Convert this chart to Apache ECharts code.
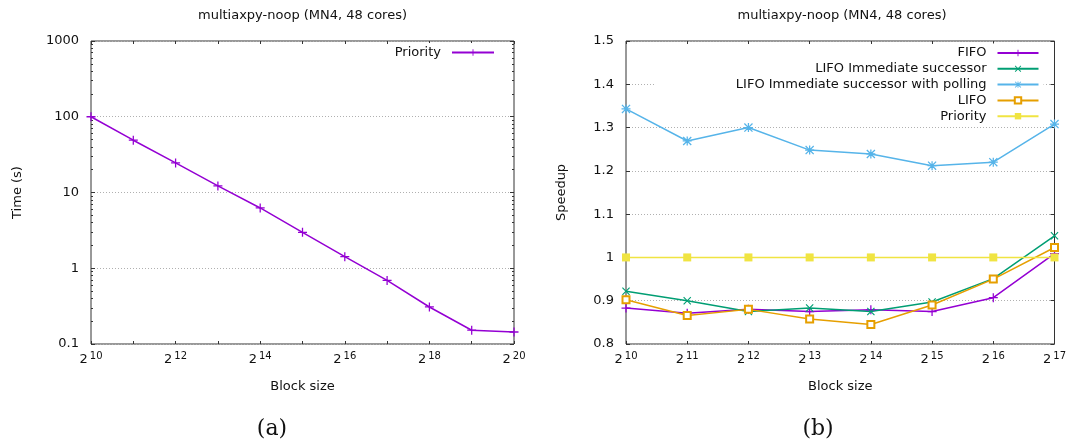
<!DOCTYPE html>
<html>
<head>
<meta charset="utf-8">
<script src="https://cdn.jsdelivr.net/npm/echarts@6/dist/echarts.min.js"></script>
<style>
  html, body { margin: 0; padding: 0; background: #fff; }
  #chart { width: 1069px; height: 444px; }
</style>
</head>
<body>
<div id="chart"></div>
<script>
// ---- data ----
// Block sizes are stored as powers of two (exponent n means 2^n elements).
const timeExponents = [10, 11, 12, 13, 14, 15, 16, 17, 18, 19, 20];
const timePriority = [100, 49, 24.6, 12.2, 6.25, 2.98, 1.42, 0.69, 0.308, 0.152, 0.144];

const speedupExponents = [10, 11, 12, 13, 14, 15, 16, 17];
const speedupFIFO = [0.883, 0.871, 0.880, 0.875, 0.879, 0.875, 0.907, 1.009];
const speedupLIFOImm = [0.922, 0.900, 0.875, 0.883, 0.875, 0.897, 0.951, 1.050];
const speedupLIFOImmPoll = [1.343, 1.269, 1.300, 1.248, 1.239, 1.212, 1.220, 1.308];
const speedupLIFO = [0.902, 0.866, 0.880, 0.858, 0.845, 0.890, 0.950, 1.023];
const speedupPriority = [1, 1, 1, 1, 1, 1, 1, 1];

const timeTickValues = [0.1, 1, 10, 100, 1000];
const speedupLegend = ['FIFO', 'LIFO Immediate successor', 'LIFO Immediate successor with polling', 'LIFO', 'Priority'];
const titleText = 'multiaxpy-noop (MN4, 48 cores)';

// ---- styling ----
const FONT = 'DejaVu Sans';
const TEXT = '#111';
const COLORS = {
  purple: '#9400d3',
  green: '#009e73',
  blue: '#56b4e9',
  orange: '#e69f00',
  yellow: '#f0e442'
};
const SYM_PLUS = 'path://M4.3,0H5.7V4.3H10V5.7H5.7V10H4.3V5.7H0V4.3H4.3Z';
const SYM_CROSS = 'path://M0,1L1,0L5,4L9,0L10,1L6,5L10,9L9,10L5,6L1,10L0,9L4,5Z';
const SYM_STAR = 'path://M4.3,0H5.7V4.3H10V5.7H5.7V10H4.3V5.7H0V4.3H4.3ZM0,1L1,0L5,4L9,0L10,1L6,5L10,9L9,10L5,6L1,10L0,9L4,5Z';

// minor ticks of the log axis (2..9 within every decade)
const logMinor = [];
for (let d = 0.1; d < 1000; d *= 10) {
  for (let k = 2; k <= 9; k++) logMinor.push(+(k * d).toPrecision(3));
}

const pairs = (xs, ys) => xs.map((x, i) => [x, ys[i]]);
const powLabel = v => '{b|2}{e|' + v + '}';
const powRich = {
  b: { fontFamily: FONT, fontSize: 13, color: TEXT, verticalAlign: 'bottom', lineHeight: 16 },
  e: { fontFamily: FONT, fontSize: 10, color: TEXT, verticalAlign: 'top', lineHeight: 16, padding: [1, 0, 0, 2] }
};
const dotted = { show: true, lineStyle: { color: '#b0b0b0', width: 1, type: [1, 2] } };
const tickColor = '#333';

function xAxes(gridIndex, max, labelFilter) {
  return [
    {
      type: 'value', gridIndex, position: 'bottom', min: 10, max, interval: 1,
      axisLine: { show: false },
      axisTick: { show: true, inside: true, length: 3, lineStyle: { color: tickColor } },
      axisLabel: {
        margin: 6, formatter: v => labelFilter(v) ? powLabel(v) : '', rich: powRich
      },
      splitLine: { show: false },
      name: 'Block size', nameLocation: 'middle', nameGap: 36,
      nameTextStyle: { fontFamily: FONT, fontSize: 13, color: TEXT }
    },
    {
      type: 'value', gridIndex, position: 'top', min: 10, max, interval: 1,
      axisLine: { show: false },
      axisTick: { show: true, inside: true, length: 3, lineStyle: { color: tickColor } },
      axisLabel: { show: false }, splitLine: { show: false }
    }
  ];
}

function logAxis(position, extra) {
  return Object.assign({
    type: 'log', logBase: 10, gridIndex: 0, position, min: 0.1, max: 1000,
    axisLine: { show: false },
    axisLabel: { show: false }, splitLine: { show: false }
  }, extra);
}

const yAxis = [
  logAxis('left', {
    axisTick: { show: true, inside: true, length: 4, customValues: timeTickValues, lineStyle: { color: tickColor } },
    axisLabel: {
      show: true, margin: 12, customValues: timeTickValues, formatter: v => String(v),
      fontFamily: FONT, fontSize: 13, color: TEXT
    },
    splitLine: dotted,
    name: 'Time (s)', nameLocation: 'middle', nameGap: 67,
    nameTextStyle: { fontFamily: FONT, fontSize: 13, color: TEXT }
  }),
  logAxis('left', { axisTick: { show: true, inside: true, length: 2, customValues: logMinor, lineStyle: { color: tickColor } } }),
  logAxis('right', { axisTick: { show: true, inside: true, length: 4, customValues: timeTickValues, lineStyle: { color: tickColor } } }),
  logAxis('right', { axisTick: { show: true, inside: true, length: 2, customValues: logMinor, lineStyle: { color: tickColor } } }),
  {
    type: 'value', gridIndex: 1, position: 'left', min: 0.8, max: 1.5, interval: 0.1,
    axisLine: { show: false },
    axisTick: { show: true, inside: true, length: 4, lineStyle: { color: tickColor } },
    axisLabel: { margin: 12, fontFamily: FONT, fontSize: 13, color: TEXT },
    splitLine: dotted,
    name: 'Speedup', nameLocation: 'middle', nameGap: 58,
    nameTextStyle: { fontFamily: FONT, fontSize: 13, color: TEXT }
  },
  {
    type: 'value', gridIndex: 1, position: 'right', min: 0.8, max: 1.5, interval: 0.1,
    axisLine: { show: false },
    axisTick: { show: true, inside: true, length: 4, lineStyle: { color: tickColor } },
    axisLabel: { show: false }, splitLine: { show: false }
  }
];

function lineSeries(key, xIdx, yIdx, data, color, symbol, size, extraItem) {
  return {
    name: key, type: 'line', xAxisIndex: xIdx, yAxisIndex: yIdx, data,
    color, symbol, symbolSize: size, showSymbol: true,
    lineStyle: { color, width: 1.5 },
    itemStyle: Object.assign({ color }, extraItem || {}),
    emphasis: { disabled: true }, animation: false
  };
}

const series = [
  lineSeries('a|Priority', 0, 0, pairs(timeExponents, timePriority), COLORS.purple, SYM_PLUS, 9),
  lineSeries('b|FIFO', 2, 4, pairs(speedupExponents, speedupFIFO), COLORS.purple, SYM_PLUS, 9),
  lineSeries('b|LIFO Immediate successor', 2, 4, pairs(speedupExponents, speedupLIFOImm), COLORS.green, SYM_CROSS, 8),
  lineSeries('b|LIFO Immediate successor with polling', 2, 4, pairs(speedupExponents, speedupLIFOImmPoll), COLORS.blue, SYM_STAR, 9),
  lineSeries('b|LIFO', 2, 4, pairs(speedupExponents, speedupLIFO), COLORS.orange, 'emptyRect', 7, { borderWidth: 1.2, borderColor: COLORS.orange }),
  lineSeries('b|Priority', 2, 4, pairs(speedupExponents, speedupPriority), COLORS.yellow, 'rect', 8)
];

function legendItem(key, right, top, itemWidth, padLeft) {
  return {
    data: [key], orient: 'horizontal', align: 'right',
    right, top, itemWidth, itemHeight: 8, itemGap: 0,
    padding: [3, 4, 3, padLeft || 0],
    backgroundColor: '#fff', selectedMode: false,
    formatter: n => n.split('|')[1],
    textStyle: { fontFamily: FONT, fontSize: 13, color: TEXT, padding: [0, 6, 0, 0] }
  };
}

const legend = [legendItem('a|Priority', 570, 43, 42)];
speedupLegend.forEach((name, i) => {
  legend.push(legendItem('b|' + name, 25.5, 43.5 + i * 15.8, 41, name.endsWith('polling') ? 80 : 0));
});

const option = {
  animation: false,
  backgroundColor: '#fff',
  grid: [
    { left: 91, top: 41, width: 423, height: 303, show: true, borderColor: '#333', borderWidth: 1, backgroundColor: 'transparent' },
    { left: 626, top: 41, width: 432, height: 303, show: true, borderColor: '#333', borderWidth: 1, backgroundColor: 'transparent' }
  ],
  xAxis: [].concat(
    xAxes(0, 20, v => v % 2 === 0),
    xAxes(1, 17, () => true)
  ),
  yAxis,
  legend,
  series,
  graphic: [
    { type: 'text', x: 302.5, y: 16, style: { text: titleText, fontFamily: FONT, fontSize: 13, fill: TEXT, textAlign: 'center', textVerticalAlign: 'middle' } },
    { type: 'text', x: 842, y: 16, style: { text: titleText, fontFamily: FONT, fontSize: 13, fill: TEXT, textAlign: 'center', textVerticalAlign: 'middle' } },
    { type: 'text', x: 272, y: 429, style: { text: '(a)', fontFamily: 'DejaVu Serif', fontSize: 22, fill: '#111', textAlign: 'center', textVerticalAlign: 'middle' } },
    { type: 'text', x: 818, y: 429, style: { text: '(b)', fontFamily: 'DejaVu Serif', fontSize: 22, fill: '#111', textAlign: 'center', textVerticalAlign: 'middle' } }
  ]
};

const chart = echarts.init(document.getElementById('chart'), null, { renderer: 'canvas' });
chart.setOption(option);
</script>
</body>
</html>
